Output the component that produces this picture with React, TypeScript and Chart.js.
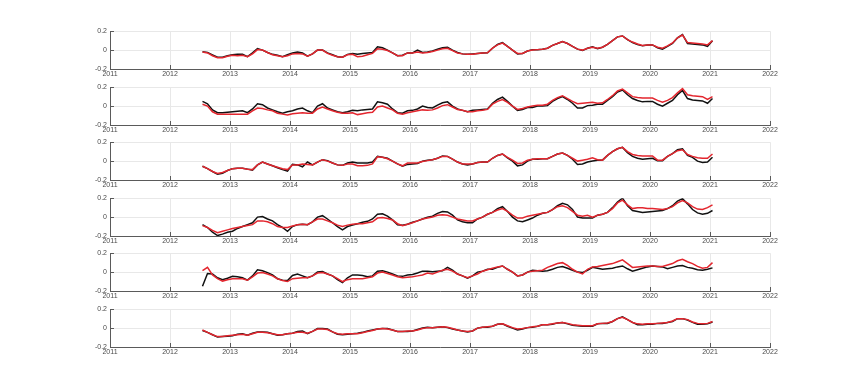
import React, { useEffect, useRef } from 'react';
import { Chart, registerables } from 'chart.js';

Chart.register(...registerables);

// Monthly samples: Jul 2012 ... Jan 2021 (103 months), plotted at mid-month
const firstYear = 2012;
const firstMonth = 7;
const monthCount = 103;
const monthTimes: number[] = Array.from({ length: monthCount }, (_, k) => firstYear + (firstMonth - 1 + k + 0.5) / 12);

const xTicks = [2011, 2012, 2013, 2014, 2015, 2016, 2017, 2018, 2019, 2020, 2021, 2022];
const yTicks = [-0.2, 0, 0.2];

// Panel 1
const p1Black = [
  -0.017, -0.024, -0.05, -0.075, -0.075, -0.06,
  -0.05, -0.045, -0.045, -0.07, -0.03, 0.015, 0.0, -0.025, -0.045, -0.055, -0.07, -0.05,
  -0.03, -0.02, -0.03, -0.065, -0.04, 0.0, 0.0, -0.03, -0.05, -0.07, -0.075, -0.045,
  -0.035, -0.045, -0.035, -0.03, -0.025, 0.035, 0.025, 0.0, -0.03, -0.06, -0.055, -0.03,
  -0.03, 0.0, -0.025, -0.02, -0.01, 0.01, 0.025, 0.03, 0.0, -0.025, -0.04, -0.045,
  -0.04, -0.035, -0.03, -0.028, 0.02, 0.06, 0.08, 0.04, 0.0, -0.04, -0.035, -0.01,
  0.005, 0.005, 0.01, 0.02, 0.05, 0.07, 0.09, 0.07, 0.04, 0.01, -0.005, 0.02,
  0.035, 0.015, 0.03, 0.06, 0.1, 0.14, 0.15, 0.11, 0.08, 0.06, 0.045, 0.055,
  0.055, 0.025, 0.01, 0.04, 0.07, 0.13, 0.165, 0.07, 0.065, 0.06, 0.055, 0.04,
  0.1,
];
const p1Red = [
  -0.02, -0.03, -0.06, -0.08, -0.08, -0.065,
  -0.055, -0.06, -0.055, -0.07, -0.04, 0.005, 0.0, -0.025, -0.05, -0.06, -0.07, -0.06,
  -0.04, -0.035, -0.04, -0.065, -0.04, 0.0, 0.0, -0.035, -0.055, -0.07, -0.075, -0.05,
  -0.045, -0.07, -0.065, -0.05, -0.035, 0.015, 0.01, -0.005, -0.03, -0.06, -0.06, -0.03,
  -0.03, -0.02, -0.03, -0.025, -0.015, 0.0, 0.015, 0.02, -0.005, -0.03, -0.04, -0.045,
  -0.045, -0.035, -0.03, -0.028, 0.02, 0.055, 0.075, 0.04, 0.0, -0.035, -0.035, -0.01,
  0.0, 0.005, 0.01, 0.02, 0.05, 0.07, 0.09, 0.07, 0.04, 0.01, 0.0, 0.02,
  0.03, 0.02, 0.03, 0.06, 0.1, 0.14, 0.15, 0.11, 0.085, 0.065, 0.05, 0.055,
  0.055, 0.03, 0.02, 0.045, 0.075, 0.13, 0.16, 0.08, 0.075, 0.07, 0.065, 0.055,
  0.1,
];

// Panel 2
const p2Black = [
  0.05, 0.025, -0.04, -0.07, -0.07, -0.065,
  -0.06, -0.055, -0.05, -0.07, -0.03, 0.025, 0.015, -0.02, -0.04, -0.06, -0.075, -0.06,
  -0.05, -0.03, -0.02, -0.05, -0.07, 0.0, 0.025, -0.02, -0.04, -0.06, -0.07, -0.06,
  -0.045, -0.05, -0.04, -0.035, -0.03, 0.045, 0.035, 0.02, -0.03, -0.07, -0.075, -0.05,
  -0.045, -0.03, 0.0, -0.015, -0.02, 0.01, 0.035, 0.045, 0.0, -0.03, -0.045, -0.06,
  -0.045, -0.04, -0.035, -0.03, 0.03, 0.07, 0.095, 0.05, 0.0, -0.045, -0.035, -0.015,
  -0.015, 0.0, 0.0, 0.005, 0.05, 0.08, 0.1, 0.07, 0.03, -0.02, -0.02, 0.005,
  0.01, 0.02, 0.02, 0.06, 0.1, 0.15, 0.17, 0.12, 0.08, 0.06, 0.045, 0.05,
  0.05, 0.02, 0.0, 0.03, 0.06, 0.12, 0.165, 0.08, 0.065, 0.06, 0.055, 0.03,
  0.08,
];
const p2Red = [
  0.02, 0.0, -0.06, -0.085, -0.085, -0.085,
  -0.085, -0.085, -0.085, -0.085, -0.05, -0.02, -0.025, -0.04, -0.05, -0.075, -0.085, -0.095,
  -0.08, -0.075, -0.07, -0.075, -0.075, -0.03, -0.01, -0.03, -0.05, -0.065, -0.075, -0.075,
  -0.07, -0.09, -0.08, -0.07, -0.065, -0.01, 0.0, -0.02, -0.04, -0.075, -0.085, -0.07,
  -0.06, -0.05, -0.04, -0.045, -0.04, -0.02, 0.005, 0.015, -0.01, -0.035, -0.045, -0.06,
  -0.06, -0.05, -0.045, -0.035, 0.02, 0.05, 0.07, 0.04, 0.0, -0.035, -0.025, -0.01,
  0.0, 0.01, 0.01, 0.02, 0.06, 0.09, 0.11, 0.08, 0.05, 0.025, 0.03, 0.035,
  0.04, 0.03, 0.035, 0.07, 0.11, 0.16, 0.18, 0.14, 0.1, 0.09, 0.085, 0.085,
  0.085, 0.06, 0.04, 0.06, 0.09, 0.14, 0.185, 0.12, 0.11, 0.105, 0.1, 0.07,
  0.1,
];

// Panel 3
const p3Black = [
  -0.055, -0.08, -0.11, -0.14, -0.13, -0.1,
  -0.08, -0.075, -0.075, -0.085, -0.095, -0.04, -0.01, -0.03, -0.05, -0.07, -0.09, -0.105,
  -0.035, -0.04, -0.06, -0.01, -0.04, -0.01, 0.015, 0.005, -0.02, -0.04, -0.045, -0.02,
  -0.01, -0.02, -0.02, -0.02, -0.01, 0.05, 0.04, 0.03, 0.0, -0.03, -0.055, -0.035,
  -0.03, -0.025, 0.0, 0.01, 0.015, 0.03, 0.055, 0.05, 0.02, -0.01, -0.03, -0.04,
  -0.03, -0.015, -0.01, -0.01, 0.03, 0.06, 0.075, 0.035, 0.0, -0.05, -0.04, 0.0,
  0.02, 0.02, 0.025, 0.025, 0.05, 0.075, 0.085, 0.06, 0.02, -0.035, -0.03, -0.01,
  0.0, 0.01, 0.01, 0.06, 0.1, 0.13, 0.145, 0.09, 0.05, 0.03, 0.02, 0.025,
  0.03, 0.005, 0.005, 0.05, 0.08, 0.12, 0.13, 0.06, 0.04, 0.0, -0.015, -0.01,
  0.04,
];
const p3Red = [
  -0.055, -0.08, -0.11, -0.13, -0.12, -0.1,
  -0.08, -0.075, -0.075, -0.085, -0.09, -0.04, -0.01, -0.03, -0.05, -0.065, -0.08, -0.09,
  -0.04, -0.04, -0.03, -0.035, -0.04, -0.01, 0.015, 0.0, -0.02, -0.04, -0.045, -0.03,
  -0.03, -0.05, -0.05, -0.045, -0.03, 0.045, 0.04, 0.025, 0.0, -0.03, -0.05, -0.02,
  -0.02, -0.02, -0.005, 0.005, 0.015, 0.03, 0.05, 0.05, 0.02, -0.01, -0.03, -0.03,
  -0.03, -0.015, -0.01, -0.01, 0.03, 0.06, 0.075, 0.04, 0.01, -0.025, -0.02, 0.01,
  0.02, 0.025, 0.025, 0.025, 0.05, 0.075, 0.085, 0.06, 0.03, 0.0, 0.01, 0.02,
  0.035, 0.015, 0.01, 0.06, 0.1, 0.13, 0.145, 0.1, 0.07, 0.06, 0.055, 0.055,
  0.055, 0.01, 0.01, 0.05, 0.08, 0.11, 0.12, 0.07, 0.05, 0.035, 0.03, 0.03,
  0.075,
];

// Panel 4
const p4Black = [
  -0.08, -0.11, -0.16, -0.195, -0.18, -0.16,
  -0.15, -0.12, -0.1, -0.08, -0.06, 0.0, 0.005, -0.02, -0.04, -0.08, -0.11, -0.15,
  -0.1, -0.08, -0.075, -0.08, -0.05, 0.0, 0.015, -0.02, -0.06, -0.1, -0.135, -0.1,
  -0.085, -0.07, -0.055, -0.045, -0.02, 0.03, 0.035, 0.01, -0.03, -0.08, -0.085, -0.075,
  -0.055, -0.04, -0.02, 0.0, 0.01, 0.04, 0.06, 0.055, 0.02, -0.03, -0.05, -0.06,
  -0.06, -0.02, 0.0, 0.03, 0.05, 0.09, 0.11, 0.06, 0.0, -0.04, -0.05, -0.03,
  -0.01, 0.02, 0.04, 0.05, 0.08, 0.12, 0.145, 0.13, 0.08, 0.0, -0.01, -0.01,
  -0.01, 0.02, 0.03, 0.05, 0.1, 0.16, 0.2, 0.12, 0.07, 0.06, 0.05, 0.055,
  0.06, 0.065, 0.07, 0.09, 0.12, 0.17, 0.195, 0.14, 0.08, 0.045, 0.03, 0.04,
  0.07,
];
const p4Red = [
  -0.09, -0.11, -0.14, -0.165, -0.15, -0.135,
  -0.12, -0.11, -0.1, -0.09, -0.08, -0.04, -0.04, -0.05, -0.07, -0.1, -0.11, -0.11,
  -0.095, -0.08, -0.075, -0.08, -0.05, -0.02, -0.02, -0.04, -0.06, -0.085, -0.1, -0.085,
  -0.075, -0.07, -0.07, -0.06, -0.05, -0.01, -0.005, -0.015, -0.03, -0.07, -0.09, -0.075,
  -0.06, -0.04, -0.02, -0.01, 0.0, 0.02, 0.025, 0.02, 0.0, -0.02, -0.03, -0.04,
  -0.04, -0.02, 0.0, 0.03, 0.05, 0.075, 0.09, 0.06, 0.02, -0.01, -0.01, 0.01,
  0.02, 0.03, 0.04, 0.05, 0.08, 0.11, 0.12, 0.1, 0.06, 0.02, 0.01, 0.02,
  0.0, 0.02, 0.03, 0.05, 0.09, 0.15, 0.18, 0.13, 0.09, 0.1, 0.1, 0.09,
  0.09, 0.085, 0.08, 0.09, 0.11, 0.15, 0.175, 0.15, 0.11, 0.085, 0.08, 0.1,
  0.13,
];

// Panel 5
const p5Black = [
  -0.15, -0.015, -0.02, -0.06, -0.08, -0.065,
  -0.045, -0.05, -0.06, -0.085, -0.04, 0.025, 0.015, -0.005, -0.03, -0.07, -0.085, -0.09,
  -0.035, -0.02, -0.04, -0.06, -0.04, 0.0, 0.005, -0.02, -0.04, -0.08, -0.11, -0.06,
  -0.03, -0.03, -0.035, -0.05, -0.04, 0.01, 0.015, 0.0, -0.02, -0.04, -0.045, -0.03,
  -0.025, -0.01, 0.01, 0.01, 0.005, 0.01, 0.015, 0.05, 0.02, -0.02, -0.04, -0.065,
  -0.04, 0.0, 0.01, 0.03, 0.03, 0.05, 0.065, 0.03, 0.0, -0.04, -0.03, 0.0,
  0.02, 0.015, 0.01, 0.015, 0.03, 0.05, 0.06, 0.04, 0.02, 0.0, -0.005, 0.02,
  0.05, 0.04, 0.03, 0.035, 0.04, 0.055, 0.065, 0.035, 0.01, 0.025, 0.04, 0.055,
  0.065, 0.06, 0.055, 0.035, 0.05, 0.065, 0.07, 0.05, 0.04, 0.025, 0.02, 0.03,
  0.045,
];
const p5Red = [
  0.015, 0.05, -0.03, -0.07, -0.095, -0.08,
  -0.07, -0.07, -0.07, -0.085, -0.05, -0.01, -0.005, -0.02, -0.04, -0.07, -0.09, -0.1,
  -0.07, -0.065, -0.06, -0.06, -0.04, -0.01, -0.005, -0.02, -0.04, -0.07, -0.1, -0.08,
  -0.07, -0.07, -0.07, -0.06, -0.05, -0.01, 0.0, -0.015, -0.03, -0.05, -0.06, -0.055,
  -0.05, -0.04, -0.03, -0.01, -0.02, 0.0, 0.02, 0.03, 0.01, -0.02, -0.04, -0.06,
  -0.04, -0.02, 0.01, 0.025, 0.04, 0.055, 0.065, 0.03, 0.0, -0.04, -0.03, 0.0,
  0.01, 0.015, 0.02, 0.05, 0.07, 0.09, 0.1, 0.07, 0.03, 0.0, -0.02, 0.03,
  0.055, 0.06, 0.07, 0.08, 0.09, 0.11, 0.13, 0.09, 0.05, 0.055, 0.06, 0.065,
  0.065, 0.06, 0.06, 0.075, 0.09, 0.12, 0.135, 0.11, 0.09, 0.06, 0.04, 0.05,
  0.1,
];

// Panel 6
const p6Black = [
  -0.025, -0.045, -0.07, -0.095, -0.09, -0.085,
  -0.08, -0.065, -0.06, -0.075, -0.055, -0.04, -0.04, -0.045, -0.06, -0.075, -0.07, -0.06,
  -0.055, -0.035, -0.03, -0.06, -0.035, -0.005, -0.005, -0.01, -0.04, -0.065, -0.07, -0.065,
  -0.06, -0.055, -0.045, -0.03, -0.02, -0.01, -0.005, -0.005, -0.02, -0.035, -0.035, -0.035,
  -0.03, -0.015, 0.0, 0.01, 0.005, 0.01, 0.015, 0.005, -0.01, -0.02, -0.03, -0.04,
  -0.03, 0.0, 0.01, 0.01, 0.02, 0.04, 0.045, 0.02, 0.0, -0.02, -0.01, 0.005,
  0.01, 0.02, 0.035, 0.035, 0.04, 0.055, 0.06, 0.045, 0.03, 0.025, 0.02, 0.02,
  0.02, 0.045, 0.05, 0.05, 0.07, 0.1, 0.12, 0.09, 0.06, 0.035, 0.035, 0.04,
  0.04, 0.05, 0.05, 0.06, 0.07, 0.1, 0.1, 0.085, 0.06, 0.04, 0.04, 0.045,
  0.065,
];
const p6Red = [
  -0.02, -0.045, -0.07, -0.09, -0.09, -0.08,
  -0.075, -0.07, -0.065, -0.075, -0.06, -0.045, -0.045, -0.05, -0.06, -0.07, -0.07, -0.06,
  -0.055, -0.045, -0.045, -0.055, -0.035, -0.01, -0.01, -0.015, -0.04, -0.06, -0.065, -0.06,
  -0.06, -0.06, -0.05, -0.035, -0.025, -0.01, -0.005, -0.01, -0.02, -0.035, -0.035, -0.03,
  -0.03, -0.02, -0.005, 0.005, 0.005, 0.01, 0.015, 0.01, -0.005, -0.02, -0.03, -0.035,
  -0.03, 0.0, 0.01, 0.015, 0.02, 0.04, 0.045, 0.025, 0.005, -0.01, -0.005, 0.005,
  0.015, 0.02, 0.035, 0.035, 0.045, 0.055, 0.06, 0.05, 0.035, 0.03, 0.025, 0.025,
  0.025, 0.045, 0.05, 0.055, 0.07, 0.1, 0.115, 0.09, 0.06, 0.045, 0.04, 0.045,
  0.045, 0.05, 0.055, 0.06, 0.075, 0.1, 0.1, 0.09, 0.065, 0.05, 0.045, 0.05,
  0.07,
];

const panels = [
  { black: p1Black, red: p1Red },
  { black: p2Black, red: p2Red },
  { black: p3Black, red: p3Red },
  { black: p4Black, red: p4Red },
  { black: p5Black, red: p5Red },
  { black: p6Black, red: p6Red },
];

const PANEL_TOPS = [30, 86, 141, 197, 252, 308];
const PLOT_H = 39;
const PAD_TOP = 6;
const XAXIS_H = 14;
const CANVAS_H = PAD_TOP + PLOT_H + XAXIS_H;
const AXIS_COLOR = '#5a5a5a';
const GRID_COLOR = '#e8e8e8';
const TEXT_COLOR = '#4a4a4a';
const FONT = { family: 'Liberation Sans, Arial, sans-serif', size: 7 };

const innerTicks = {
  id: 'innerTicks',
  afterDatasetsDraw(chart: any) {
    const { ctx, chartArea, scales } = chart;
    ctx.save();
    ctx.strokeStyle = AXIS_COLOR;
    ctx.lineWidth = 1;
    scales.x.ticks.forEach((t: any) => {
      const px = Math.round(scales.x.getPixelForValue(t.value)) + 0.5;
      ctx.beginPath();
      ctx.moveTo(px, chartArea.bottom);
      ctx.lineTo(px, chartArea.bottom - 4);
      ctx.stroke();
    });
    scales.y.ticks.forEach((t: any) => {
      const py = Math.round(scales.y.getPixelForValue(t.value)) + 0.5;
      ctx.beginPath();
      ctx.moveTo(chartArea.left, py);
      ctx.lineTo(chartArea.left + 4, py);
      ctx.stroke();
    });
    ctx.restore();
  },
};

function Panel({ index }: { index: number }) {
  const ref = useRef<HTMLCanvasElement | null>(null);
  useEffect(() => {
    if (!ref.current) return;
    const p = panels[index];
    const chart = new Chart(ref.current, {
      type: 'line',
      data: {
        datasets: [
          {
            data: monthTimes.map((x, i) => ({ x, y: p.red[i] })),
            borderColor: '#e3262e',
            borderWidth: 1.5,
            pointRadius: 0,
            tension: 0,
            order: 0,
          },
          {
            data: monthTimes.map((x, i) => ({ x, y: p.black[i] })),
            borderColor: '#111111',
            borderWidth: 1.5,
            pointRadius: 0,
            tension: 0,
            order: 1,
          },
        ],
      },
      options: {
        animation: false,
        responsive: false,
        maintainAspectRatio: false,
        events: [],
        layout: { padding: { left: 80, right: 80, top: PAD_TOP, bottom: 0 } },
        plugins: { legend: { display: false }, tooltip: { enabled: false } },
        scales: {
          x: {
            type: 'linear',
            min: 2011,
            max: 2022,
            afterBuildTicks: (s: any) => { s.ticks = xTicks.map((v) => ({ value: v })); },
            afterFit: (s: any) => { s.height = XAXIS_H; },
            ticks: {
              callback: (v: any) => String(v),
              color: TEXT_COLOR,
              font: FONT,
              padding: 1,
              maxRotation: 0,
              autoSkip: false,
            },
            grid: { color: GRID_COLOR, drawTicks: false, lineWidth: 1 },
            border: { color: AXIS_COLOR, width: 1 },
          },
          y: {
            type: 'linear',
            min: -0.2,
            max: 0.2,
            afterBuildTicks: (s: any) => { s.ticks = yTicks.map((v) => ({ value: v })); },
            afterFit: (s: any) => { s.width = 30; },
            ticks: {
              callback: (v: any) => (Math.abs(v) < 1e-9 ? '0' : String(Number(v).toFixed(1))),
              color: TEXT_COLOR,
              font: FONT,
              padding: 3,
            },
            grid: { color: GRID_COLOR, drawTicks: false, lineWidth: 1 },
            border: { color: AXIS_COLOR, width: 1 },
          },
        },
      },
      plugins: [innerTicks],
    } as any);
    return () => chart.destroy();
  }, [index]);
  return (
    <canvas
      ref={ref}
      width={850}
      height={CANVAS_H}
      style={{ position: 'absolute', left: 0, top: PANEL_TOPS[index] - PAD_TOP, width: 850, height: CANVAS_H }}
    />
  );
}

export default function App() {
  return (
    <div style={{ position: 'fixed', left: 0, top: 0, width: 850, height: 391, background: '#ffffff', overflow: 'hidden' }}>
      {panels.map((_, i) => (
        <Panel key={i} index={i} />
      ))}
    </div>
  );
}
